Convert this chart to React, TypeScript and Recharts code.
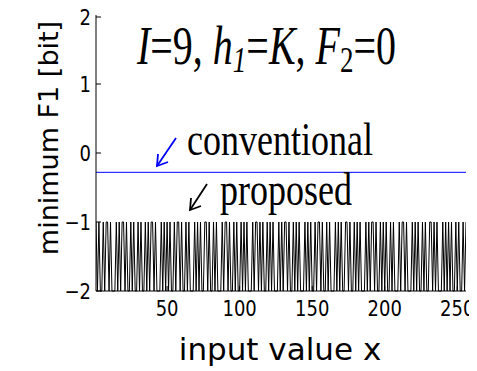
import React from 'react';
import { LineChart, Line, XAxis, YAxis } from 'recharts';

const xTicks = [50, 100, 150, 200, 250];
const yTicks = [-2, -1, 0, 1, 2];
const conventionalX = [1, 256];
const conventionalY = [-0.28, -0.28];
const proposed = [
  -1,-2,-1,-2,-2,-1,-2,-1,-1,-2,-1,-2,-2,-2,-1,-2,
  -1,-2,-1,-1,-2,-1,-2,-2,-1,-2,-1,-2,-2,-1,-2,-1,
  -2,-2,-1,-2,-1,-2,-1,-1,-2,-1,-2,-2,-2,-1,-2,-1,
  -2,-1,-2,-1,-2,-2,-1,-2,-1,-1,-2,-1,-2,-2,-1,-2,
  -1,-2,-2,-2,-1,-2,-1,-2,-1,-2,-2,-1,-1,-2,-1,-2,
  -2,-1,-2,-1,-2,-2,-2,-1,-2,-1,-1,-2,-1,-2,-2,-1,
  -2,-1,-2,-2,-1,-2,-1,-2,-1,-2,-2,-2,-1,-2,-1,-1,
  -2,-1,-2,-1,-2,-2,-1,-2,-1,-2,-1,-2,-2,-2,-1,-2,
  -1,-2,-1,-1,-2,-1,-2,-2,-1,-2,-1,-2,-1,-2,-2,-2,
  -1,-2,-1,-2,-1,-2,-2,-1,-2,-1,-1,-2,-1,-2,-2,-1,
  -2,-1,-2,-2,-2,-1,-2,-1,-2,-1,-2,-2,-1,-1,-2,-1,
  -2,-2,-1,-2,-1,-2,-1,-2,-2,-2,-1,-2,-1,-2,-1,-1,
  -2,-1,-2,-2,-1,-2,-1,-2,-1,-2,-2,-1,-2,-1,-2,-2,
  -2,-1,-2,-1,-1,-2,-1,-2,-2,-2,-1,-2,-1,-2,-1,-2,
  -2,-1,-2,-1,-2,-2,-1,-1,-2,-1,-2,-1,-2,-2,-2,-1,
  -2,-1,-2,-1,-2,-1,-2,-2,-1,-2,-1,-2,-2,-1,-2,-1,
];

const data = proposed.map((v, i) => ({ x: i + 1, proposed: v }));
const convData = conventionalX.map((x, i) => ({ x, conventional: conventionalY[i] }));

const SY = 1.3;
const sans = 'DejaVu Sans, Verdana, sans-serif';
const serif = 'Liberation Serif, Times New Roman, serif';
const fmt = (v: number) => (v < 0 ? '\u2212' + Math.abs(v) : String(v));

const BottomTick = (p: any) => (
  <g>
    <line x1={p.x} y1={p.y} x2={p.x} y2={p.y - 5} stroke="#000" />
    <text transform={`translate(${p.x},${p.y + 25}) scale(1,1.2)`} textAnchor="middle" fontSize={18} fontFamily={sans} fill="#000">{p.payload.value}</text>
  </g>
);
const TopTick = (p: any) => (
  <line x1={p.x} y1={p.y} x2={p.x} y2={p.y + 5} stroke="#000" />
);
const LeftTick = (p: any) => (
  <g>
    <line x1={p.x} y1={p.y} x2={p.x + 5} y2={p.y} stroke="#000" />
    <text transform={`translate(${p.x - 5},${p.y + 8}) scale(1,1.2)`} textAnchor="end" fontSize={18} fontFamily={sans} fill="#000">{fmt(p.payload.value)}</text>
  </g>
);
const RightTick = (p: any) => (
  <line x1={p.x} y1={p.y} x2={p.x - 5} y2={p.y} stroke="#000" />
);

export default function App() {
  return (
    <div style={{ position: 'relative', width: 469, height: 363 }}>
      <style>{`.recharts-surface{overflow:visible}`}</style>
      <LineChart width={469} height={363} data={data} margin={{ top: 7, right: 11, bottom: 0, left: 0 }}>
        <XAxis dataKey="x" type="number" domain={[1, 256]} ticks={xTicks} allowDataOverflow
          height={80} tickSize={0} tickMargin={0} tick={<BottomTick />} axisLine={{ stroke: '#000' }} />
        <XAxis xAxisId="top" orientation="top" dataKey="x" type="number" domain={[1, 256]} ticks={xTicks}
          height={0} tickSize={0} tickMargin={0} tick={<TopTick />} axisLine={{ stroke: '#000' }} />
        <YAxis type="number" domain={[-2, 2]} ticks={yTicks} width={88} tickSize={0} tickMargin={0}
          tick={<LeftTick />} axisLine={{ stroke: '#000' }} />
        <YAxis yAxisId="right" orientation="right" type="number" domain={[-2, 2]} ticks={yTicks} width={0}
          tickSize={0} tickMargin={0} tick={<RightTick />} axisLine={{ stroke: '#000' }} />
        <Line dataKey="proposed" stroke="#000" strokeWidth={1} dot={false} isAnimationActive={false} />
        <Line data={convData} dataKey="conventional" stroke="#0000ff" strokeWidth={1} dot={false} isAnimationActive={false} />
      </LineChart>
      <svg width={469} height={363} style={{ position: 'absolute', left: 0, top: 0, pointerEvents: 'none', overflow: 'visible' }}>
        <text transform={`translate(129,56) scale(1,1.35)`} fontFamily={serif} fontStyle="italic" fontSize={40} fill="#000">
          <tspan>I</tspan><tspan fontStyle="normal">=9, </tspan><tspan>h</tspan><tspan fontSize={27} dy={6}>1</tspan><tspan fontStyle="normal" dy={-6}>=</tspan><tspan>K</tspan><tspan fontStyle="normal">, </tspan><tspan>F</tspan><tspan fontSize={27} dy={6} fontStyle="normal">2</tspan><tspan fontStyle="normal" dy={-6}>=0</tspan>
        </text>
        <text transform={`translate(179,147) scale(1,${SY})`} fontFamily={serif} fontSize={36} fill="#000">conventional</text>
        <text transform={`translate(212,197) scale(1,${SY})`} fontFamily={serif} fontSize={36} fill="#000">proposed</text>
        <g stroke="#0000ff" strokeWidth={1.8} fill="none">
          <path d="M168,130 L149,158" />
          <path d="M150,146 L149,158 L160,154" />
        </g>
        <g stroke="#000" strokeWidth={1.8} fill="none">
          <path d="M199,176 L182,202" />
          <path d="M183,190 L182,202 L193,198" />
        </g>
        <text x={272} y={352} textAnchor="middle" fontFamily={sans} fontSize={31} fill="#000">input value x</text>
        <text transform={`translate(50,130) rotate(-90)`} textAnchor="middle" fontFamily={sans} fontSize={27} fill="#000">minimum F1  [bit]</text>
      </svg>
    </div>
  );
}
